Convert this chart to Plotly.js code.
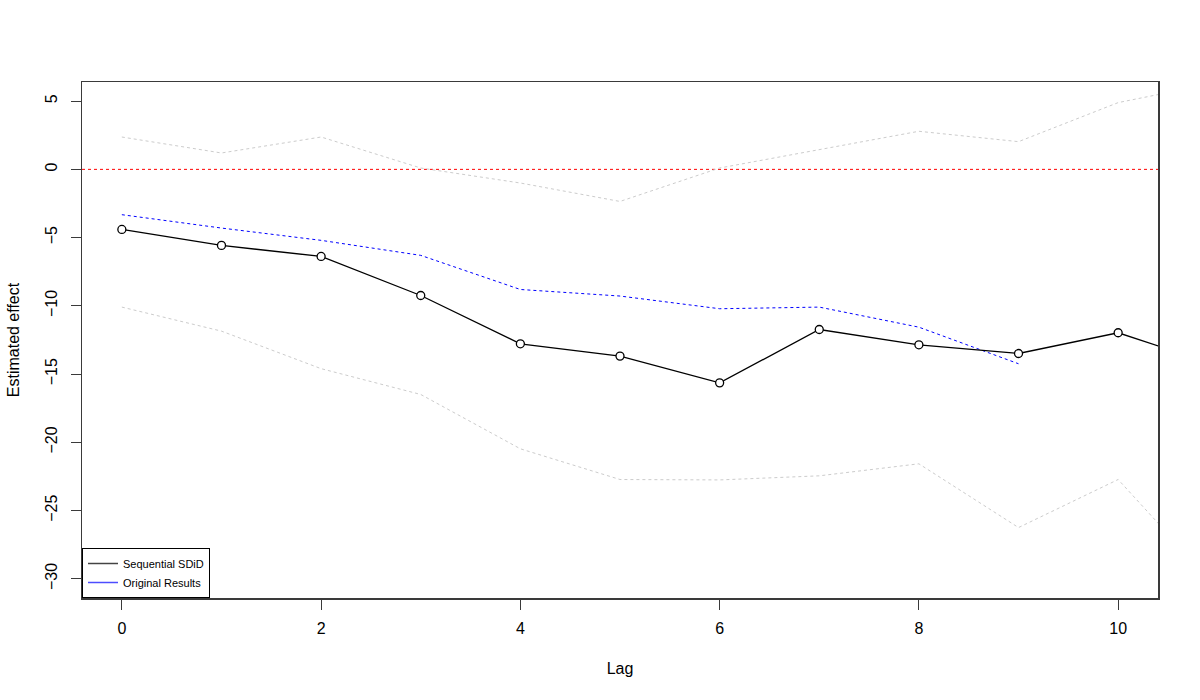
<!DOCTYPE html>
<html>
<head>
<meta charset="utf-8">
<script src="https://cdn.plot.ly/plotly-3.0.1.min.js"></script>
<style>html,body{margin:0;padding:0;background:#fff;}#chart{width:1200px;height:700px;}</style>
</head>
<body>
<div id="chart"></div>
<script>
// Lags
const lags = [0, 1, 2, 3, 4, 5, 6, 7, 8, 9, 10, 11];
// Sequential SDiD estimates
const seqEst = [-4.40, -5.57, -6.38, -9.24, -12.78, -13.68, -15.64, -11.73, -12.85, -13.49, -11.97, -14.36];
// Confidence band
const ciUpper = [2.37, 1.20, 2.37, 0.10, -1.00, -2.35, 0.10, 1.47, 2.79, 2.03, 4.89, 6.36];
const ciLower = [-10.09, -11.85, -14.60, -16.49, -20.47, -22.72, -22.75, -22.45, -21.57, -26.24, -22.72, -30.70];
// Original results
const origLags = [0, 1, 2, 3, 4, 5, 6, 7, 8, 9];
const origEst = [-3.32, -4.30, -5.20, -6.30, -8.80, -9.28, -10.21, -10.09, -11.56, -14.24];
// Reference line
const refY = 0;

const font = "Liberation Sans, Arial, Helvetica, sans-serif";

const traces = [
  {x: lags, y: ciUpper, mode: 'lines', line: {color: '#cccccc', width: 1, dash: 'dot'}, showlegend: false, hoverinfo: 'skip'},
  {x: lags, y: ciLower, mode: 'lines', line: {color: '#cccccc', width: 1, dash: 'dot'}, showlegend: false, hoverinfo: 'skip'},
  {x: origLags, y: origEst, mode: 'lines', line: {color: '#0000ff', width: 1, dash: 'dot'}, showlegend: false},
  {x: lags, y: seqEst, mode: 'lines+markers', line: {color: '#000000', width: 1.3},
   marker: {symbol: 'circle', size: 8, color: '#ffffff', line: {color: '#000000', width: 1.3}}, showlegend: false},
  // legend entries
  {x: [null], y: [null], mode: 'lines', name: 'Sequential SDiD', line: {color: '#444444', width: 1.5}},
  {x: [null], y: [null], mode: 'lines', name: 'Original Results', line: {color: '#4d4dff', width: 1.5}}
];

const axisCommon = {
  showline: true, mirror: true, linecolor: '#3a3a3a', linewidth: 1.5,
  ticks: 'outside', ticklen: 10, tickwidth: 1, tickcolor: '#3a3a3a',
  showgrid: false, zeroline: false,
  tickfont: {family: font, size: 16, color: '#000'}
};

const layout = {
  width: 1200, height: 700,
  paper_bgcolor: '#fff', plot_bgcolor: '#fff',
  margin: {l: 82, r: 42, t: 82, b: 102},
  font: {family: font, color: '#000'},
  xaxis: Object.assign({}, axisCommon, {
    range: [-0.4, 10.4], tickvals: [0, 2, 4, 6, 8, 10], ticklabelstandoff: 5,
    title: {text: 'Lag', font: {family: font, size: 16}, standoff: 27}
  }),
  yaxis: Object.assign({}, axisCommon, {
    range: [-31.4, 6.4], tickvals: [-30, -25, -20, -15, -10, -5, 0, 5], tickangle: -90, ticklabelstandoff: 7,
    title: {text: 'Estimated effect', font: {family: font, size: 16}, standoff: 19}
  }),
  shapes: [
    {type: 'line', xref: 'paper', x0: 0, x1: 1, yref: 'y', y0: refY, y1: refY,
     line: {color: '#ff0000', width: 1, dash: 'dot'}, layer: 'below'}
  ],
  legend: {
    x: 0, y: 0, xanchor: 'left', yanchor: 'bottom',
    bgcolor: '#fff', bordercolor: '#000', borderwidth: 1,
    font: {family: font, size: 11, color: '#000'},
    tracegroupgap: 0, itemwidth: 30
  },
  showlegend: true
};

Plotly.newPlot('chart', traces, layout, {displayModeBar: false, staticPlot: true});
</script>
</body>
</html>
